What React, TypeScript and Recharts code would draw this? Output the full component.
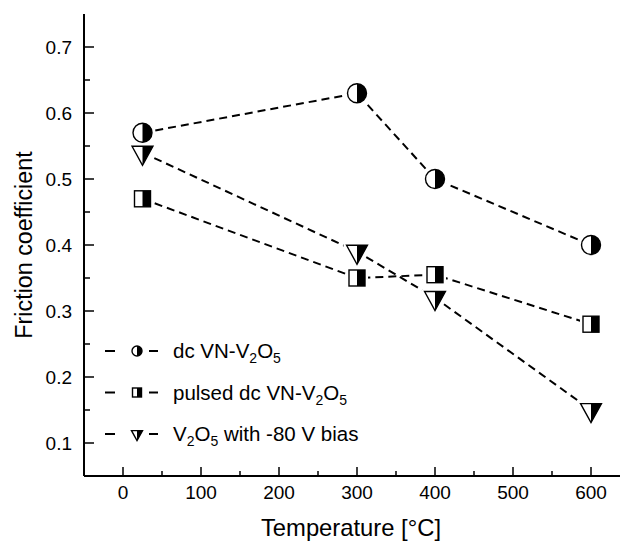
import { LineChart, Line, XAxis, YAxis, Legend } from "recharts"

const TEMPERATURES = [25, 300, 400, 600]
const DC_VN = [0.57, 0.63, 0.5, 0.4]
const PULSED_DC_VN = [0.47, 0.35, 0.355, 0.28]
const V2O5_BIAS = [0.54, 0.39, 0.32, 0.15]

const X_TICKS = [0, 50, 100, 150, 200, 250, 300, 350, 400, 450, 500, 550, 600]
const X_LABELS = [0, 100, 200, 300, 400, 500, 600]
const Y_TICKS = [0.1, 0.15, 0.2, 0.25, 0.3, 0.35, 0.4, 0.45, 0.5, 0.55, 0.6, 0.65, 0.7]
const Y_LABELS = ["0.1", "0.2", "0.3", "0.4", "0.5", "0.6", "0.7"]

const FONT = "'Liberation Sans', Arial, Helvetica, sans-serif"

const data = TEMPERATURES.map((t, i) => ({
  t,
  dc: DC_VN[i],
  pulsed: PULSED_DC_VN[i],
  bias: V2O5_BIAS[i],
}))

type Shape = "circle" | "square" | "triangle"

const Marker = ({ shape, cx, cy, s, halo = 0 }: { shape: Shape; cx: number; cy: number; s: number; halo?: number }) => {
  const sw = 1.4
  if (shape === "circle") {
    const r = s / 2
    return (
      <g>
        {halo > 0 && <circle cx={cx} cy={cy} r={r} fill="#fff" stroke="#fff" strokeWidth={halo} />}
        <circle cx={cx} cy={cy} r={r} fill="#fff" stroke="#000" strokeWidth={sw} />
        <path d={`M${cx},${cy - r} A${r},${r} 0 0 1 ${cx},${cy + r} Z`} fill="#000" />
      </g>
    )
  }
  if (shape === "square") {
    const h = s / 2
    return (
      <g>
        {halo > 0 && <rect x={cx - h} y={cy - h} width={s} height={s} fill="#fff" stroke="#fff" strokeWidth={halo} />}
        <rect x={cx - h} y={cy - h} width={s} height={s} fill="#fff" stroke="#000" strokeWidth={sw} />
        <rect x={cx} y={cy - h} width={h} height={s} fill="#000" />
      </g>
    )
  }
  // down triangle, placed by centroid
  const w = s * 1.1
  const ht = s
  const top = cy - ht / 3
  const bot = cy + (2 * ht) / 3
  const pts = `${cx - w / 2},${top} ${cx + w / 2},${top} ${cx},${bot}`
  return (
    <g>
      {halo > 0 && <polygon points={pts} fill="#fff" stroke="#fff" strokeWidth={halo} strokeLinejoin="round" />}
      <polygon points={pts} fill="#fff" stroke="#000" strokeWidth={sw} strokeLinejoin="miter" />
      <polygon points={`${cx},${top} ${cx + w / 2},${top} ${cx},${bot}`} fill="#000" />
    </g>
  )
}

const SUB = 14

const SERIES: { key: string; shape: Shape; size: number; label: any }[] = [
  {
    key: "dc",
    shape: "circle",
    size: 19,
    label: (
      <>
        dc VN-V<tspan fontSize={SUB} dy={5}>2</tspan>
        <tspan dy={-5}>O</tspan>
        <tspan fontSize={SUB} dy={5}>5</tspan>
      </>
    ),
  },
  {
    key: "pulsed",
    shape: "square",
    size: 16,
    label: (
      <>
        pulsed dc VN-V<tspan fontSize={SUB} dy={5}>2</tspan>
        <tspan dy={-5}>O</tspan>
        <tspan fontSize={SUB} dy={5}>5</tspan>
      </>
    ),
  },
  {
    key: "bias",
    shape: "triangle",
    size: 19,
    label: (
      <>
        V<tspan fontSize={SUB} dy={5}>2</tspan>
        <tspan dy={-5}>O</tspan>
        <tspan fontSize={SUB} dy={5}>5</tspan>
        <tspan dy={-5}> with -80 V bias</tspan>
      </>
    ),
  },
]

const XTick = ({ x, y, payload }: any) => {
  const v = payload.value
  const major = X_LABELS.includes(v)
  return (
    <g>
      <line x1={x} x2={x} y1={y} y2={y - (major ? 9 : 5)} stroke="#000" strokeWidth={1.5} />
      {major && (
        <text x={x} y={y + 23} textAnchor="middle" fontSize={19} fontFamily={FONT} fill="#000">
          {v}
        </text>
      )}
    </g>
  )
}

const YTick = ({ x, y, payload }: any) => {
  const v = payload.value
  const label = v.toFixed(1)
  const major = Y_LABELS.includes(label) && Math.abs(v - Number(label)) < 1e-6
  return (
    <g>
      <line x1={x} x2={x + (major ? 10 : 6)} y1={y} y2={y} stroke="#000" strokeWidth={1.5} />
      {major && (
        <text x={x - 12} y={y} dy="0.36em" textAnchor="end" fontSize={19} fontFamily={FONT} fill="#000">
          {label}
        </text>
      )}
    </g>
  )
}

const LegendBox = () => (
  <svg width={320} height={125} style={{ display: "block" }}>
    {SERIES.map((s, i) => {
      const cy = 21 + i * 41.5
      return (
        <g key={s.key}>
          <line x1={5} x2={15} y1={cy} y2={cy} stroke="#000" strokeWidth={2} />
          <line x1={49} x2={58} y1={cy} y2={cy} stroke="#000" strokeWidth={2} />
          <Marker shape={s.shape} cx={37} cy={cy} s={s.shape === "square" ? 9 : 10} />
          <text x={73} y={cy + 7} fontSize={20.5} fontFamily={FONT} fill="#000">
            {s.label}
          </text>
        </g>
      )
    })}
  </svg>
)

export default function App() {
  return (
    <div style={{ width: 620, height: 533, overflow: "hidden", position: "relative", background: "#fff" }}>
      <LineChart width={640} height={533} data={data} margin={{ top: 6, right: 18, left: 0, bottom: 0 }}>
        <XAxis
          dataKey="t"
          type="number"
          domain={[-50, 650]}
          ticks={X_TICKS}
          interval={0}
          height={65}
          tickSize={0}
          tickMargin={0}
          tickLine={false}
          axisLine={{ stroke: "#000", strokeWidth: 2 }}
          tick={(p: any) => <XTick {...p} />}
          label={(p: any) => {
            const vb = p.viewBox
            return (
              <text x={vb.x + vb.width / 2 - 6} y={528} textAnchor="middle" fontSize={23.8} fontFamily={FONT} fill="#000">
                Temperature [°C]
              </text>
            )
          }}
        />
        <XAxis
          xAxisId="top"
          orientation="top"
          dataKey="t"
          type="number"
          domain={[-50, 650]}
          height={0}
          tick={false}
          tickLine={false}
          axisLine={{ stroke: "#000", strokeWidth: 2 }}
        />
        <YAxis
          type="number"
          domain={[0.05, 0.75]}
          ticks={Y_TICKS}
          interval={0}
          width={76}
          tickSize={0}
          tickMargin={0}
          tickLine={false}
          axisLine={{ stroke: "#000", strokeWidth: 2 }}
          tick={(p: any) => <YTick {...p} />}
          label={() => (
            <text
              x={24}
              y={237}
              transform="rotate(-90 24 237)"
              textAnchor="middle"
              fontSize={23.3}
              fontFamily={FONT}
              fill="#000"
            >
              Friction coefficient
            </text>
          )}
        />
        <Legend
          layout="horizontal"
          verticalAlign="middle"
          align="center"
          content={() => <LegendBox />}
          wrapperStyle={{ left: 92, top: 322, right: "auto", bottom: "auto", width: 320, height: 125 }}
        />
        {SERIES.map((s) => (
          <Line
            key={s.key}
            dataKey={s.key}
            type="linear"
            stroke="#000"
            strokeWidth={2}
            strokeDasharray="8 5"
            isAnimationActive={false}
            activeDot={false}
            dot={(p: any) => (
              <Marker key={`${s.key}-${p.index}`} shape={s.shape} cx={p.cx} cy={p.cy} s={s.size} halo={6} />
            )}
          />
        ))}
      </LineChart>
    </div>
  )
}
